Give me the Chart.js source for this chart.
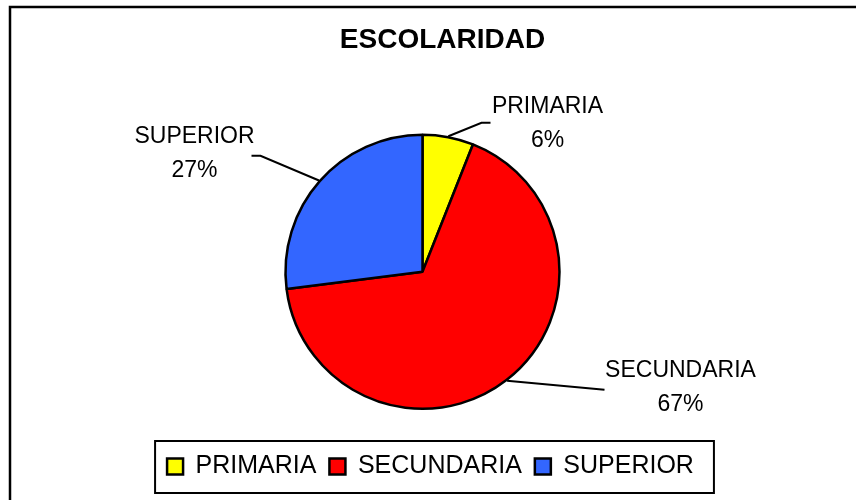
<!DOCTYPE html>
<html lang="es">
<head>
<meta charset="UTF-8">
<title>Escolaridad</title>
<script src="https://cdn.jsdelivr.net/npm/chart.js"></script>
<style>
  body { margin: 0; background: #fff; }
  #wrap { position: relative; width: 856px; height: 500px; }
</style>
</head>
<body>
<div id="wrap"><canvas id="escolaridad-chart"></canvas></div>
<script>
// datos (porcentajes)
const categorias = ['PRIMARIA', 'SECUNDARIA', 'SUPERIOR'];
const valores = [6, 67, 27];
const colores = ['#FFFF00', '#FF0000', '#3366FF'];

// posicion de las etiquetas y de las lineas guia, relativa al centro del pastel
const etiquetas = [
  { dx: 125, dy1: -165, dy2: -131, elbow: [59, -149], end: [68, -149] },
  { dx: 258, dy1: 99, dy2: 133, elbow: [182, 118], end: [182, 118] },
  { dx: -228, dy1: -135, dy2: -101, elbow: [-162, -116], end: [-171, -116] }
];

Chart.defaults.font.family = "'Liberation Sans', Arial, sans-serif";
Chart.defaults.color = '#000';

const extras = {
  id: 'extras',
  afterLayout(chart) {
    // mover titulo y leyenda como en el original
    chart.titleBlock.left += 20;
    chart.titleBlock.right += 20;
    chart.legend.left += 8;
    chart.legend.right += 8;
  },
  afterDraw(chart) {
    const ctx = chart.ctx;
    ctx.save();
    // marco exterior
    ctx.strokeStyle = '#000';
    ctx.lineWidth = 2.5;
    ctx.strokeRect(10, 7, 900, 600);

    // marco de la leyenda
    const lg = chart.legend;
    const pad = lg.options.labels.padding;
    const rowW = lg.lineWidths[0];
    const x0 = (lg.left + pad + lg.right - rowW) / 2;
    ctx.lineWidth = 2;
    ctx.strokeRect(x0 - 12, lg.top, rowW - pad + 32, lg.bottom - lg.top + 4);

    // etiquetas con lineas guia
    const meta = chart.getDatasetMeta(0);
    const total = valores.reduce((a, b) => a + b, 0);
    ctx.font = "23px 'Liberation Sans', Arial, sans-serif";
    ctx.fillStyle = '#000';
    ctx.textAlign = 'center';
    ctx.textBaseline = 'middle';
    ctx.lineWidth = 2;
    meta.data.forEach((arc, i) => {
      const p = arc.getProps(['x', 'y', 'startAngle', 'endAngle', 'outerRadius'], true);
      const mid = (p.startAngle + p.endAngle) / 2;
      const r = p.outerRadius + 1;
      const e = etiquetas[i];
      ctx.beginPath();
      ctx.moveTo(p.x + Math.cos(mid) * r, p.y + Math.sin(mid) * r);
      ctx.lineTo(p.x + e.elbow[0], p.y + e.elbow[1]);
      ctx.lineTo(p.x + e.end[0], p.y + e.end[1]);
      ctx.stroke();
      const pct = Math.round(valores[i] / total * 100) + '%';
      ctx.fillText(categorias[i], p.x + e.dx, p.y + e.dy1);
      ctx.fillText(pct, p.x + e.dx, p.y + e.dy2);
    });
    ctx.restore();
  }
};

new Chart(document.getElementById('escolaridad-chart'), {
  type: 'pie',
  data: {
    labels: categorias,
    datasets: [{
      data: valores,
      backgroundColor: colores,
      borderColor: '#000',
      borderWidth: 2.5,
      radius: 137
    }]
  },
  options: {
    responsive: true,
    maintainAspectRatio: false,
    animation: false,
    events: [],
    layout: { padding: { left: 0, right: 11, top: 0, bottom: 11 } },
    plugins: {
      title: {
        display: true,
        text: 'ESCOLARIDAD',
        font: { size: 28, weight: 'bold' },
        padding: { top: 23, bottom: 46 }
      },
      legend: {
        display: true,
        position: 'bottom',
        labels: {
          font: { size: 25 },
          boxWidth: 16,
          boxHeight: 16,
          padding: 13
        }
      },
      tooltip: { enabled: false }
    }
  },
  plugins: [extras]
});
</script>
</body>
</html>
